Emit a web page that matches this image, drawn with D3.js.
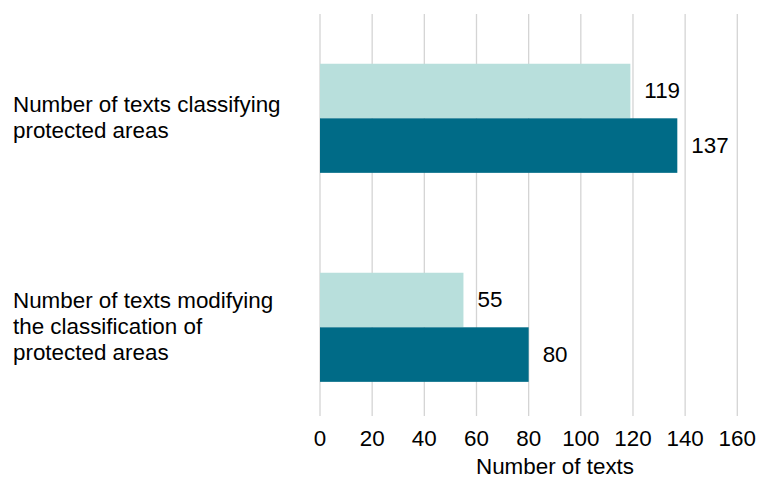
<!DOCTYPE html>
<html><head><meta charset="utf-8">
<script src="https://cdn.jsdelivr.net/npm/d3@7"></script>
<style>body{margin:0;background:#fff;} svg{display:block;font-family:"Liberation Sans",Arial,sans-serif;}</style>
</head><body>
<script>
const categories = ["Number of texts classifying protected areas", "Number of texts modifying the classification of protected areas"];
const categoryLines = [["Number of texts classifying", "protected areas"], ["Number of texts modifying", "the classification of", "protected areas"]];
const seriesNames = ["Series A", "Series B"];
const seriesA = [119, 55];
const seriesB = [137, 80];
const xTicks = [0, 20, 40, 60, 80, 100, 120, 140, 160];
const axisTitle = "Number of texts";

const W = 761, H = 477;
const FS = 22.4;
const svg = d3.select("body").append("svg").attr("width", W).attr("height", H);
const x = d3.scaleLinear().domain([0, 160]).range([320, 737.3]);
const y = d3.scaleBand().domain(categories).range([13.8, 431.8]).paddingInner(0.478).paddingOuter(0.239);
const sub = d3.scaleBand().domain(seriesNames).range([0, y.bandwidth()]);
const colors = {"Series A": "#b8dfdc", "Series B": "#006b87"};

// gridlines
svg.append("g").selectAll("line").data(xTicks).join("line")
  .attr("x1", d => x(d)).attr("x2", d => x(d)).attr("y1", 14).attr("y2", 416)
  .attr("stroke", "#d4d4d4").attr("stroke-width", 1.3);

const data = [];
categories.forEach((c, i) => {
  data.push({c, s: "Series A", v: seriesA[i]});
  data.push({c, s: "Series B", v: seriesB[i]});
});

svg.append("g").selectAll("rect").data(data).join("rect")
  .attr("x", x(0)).attr("y", d => y(d.c) + sub(d.s))
  .attr("width", d => x(d.v) - x(0)).attr("height", sub.bandwidth())
  .attr("fill", d => colors[d.s]);

svg.append("g").selectAll("text").data(data).join("text")
  .attr("x", d => x(d.v) + 14).attr("y", d => y(d.c) + sub(d.s) + sub.bandwidth() / 2)
  .attr("dy", "0.33em").attr("font-size", FS).attr("fill", "#000")
  .text(d => d.v);

// x tick labels
svg.append("g").selectAll("text").data(xTicks).join("text")
  .attr("x", d => x(d)).attr("y", 446).attr("text-anchor", "middle")
  .attr("font-size", FS).attr("fill", "#000").text(d => d);

svg.append("text").attr("x", 555).attr("y", 473.5).attr("text-anchor", "middle")
  .attr("font-size", FS).attr("fill", "#000").text(axisTitle);

// category labels
categories.forEach((c, i) => {
  const lines = categoryLines[i];
  const center = y(c) + y.bandwidth() / 2;
  const lh = 25.8;
  const start = center - (lines.length - 1) * lh / 2;
  const t = svg.append("text").attr("font-size", FS).attr("fill", "#000");
  lines.forEach((ln, j) => {
    t.append("tspan").attr("x", 13).attr("y", start + j * lh).attr("dy", "0.3em").text(ln);
  });
});
</script>
</body></html>
